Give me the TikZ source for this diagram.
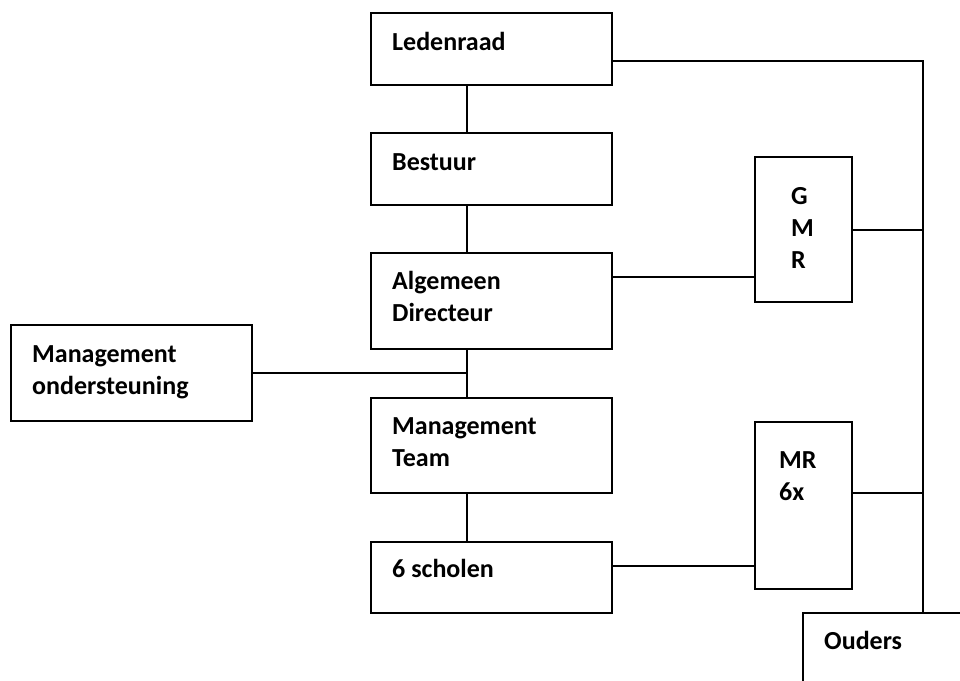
\documentclass[tikz,border=0pt]{standalone}
\usepackage{fontspec}
\setmainfont{Carlito}
\begin{document}
\begin{tikzpicture}[x=1pt,y=-1pt,
    box/.style={draw, line width=2pt, rectangle, inner sep=0pt},
    txt/.style={anchor=base west, align=left, inner sep=0pt,
        font=\fontsize{26}{32}\selectfont\bfseries},
    link/.style={line width=2pt}]
            \useasboundingbox (0,0) rectangle (960,680);
            \clip (0,0) rectangle (960,680);
            \coordinate (spine) at (467,0);
            \coordinate (rail) at (923,61);
            % boxes
            \node[box, minimum width=241, minimum height=72] (ledenraad) at (491.5,49) {};
            \node[box, minimum width=241, minimum height=72] (bestuur) at (491.5,169) {};
            \node[box, minimum width=241, minimum height=96] (algdir) at (491.5,301) {};
            \node[box, minimum width=241, minimum height=95] (mt) at (491.5,445.5) {};
            \node[box, minimum width=241, minimum height=71] (scholen) at (491.5,577.5) {};
            \node[box, minimum width=241, minimum height=96] (mo) at (131.5,373) {};
            \node[box, minimum width=97, minimum height=145] (gmr) at (803.5,229.5) {};
            \node[box, minimum width=97, minimum height=167] (mr) at (803.5,505.5) {};
            \node[box, minimum width=237, minimum height=107] (ouders) at (921.5,666.5) {};
            % texts (base = last line)
            \node[txt] (ledenraad-t) at (392,50) {Ledenraad};
            \node[txt] (bestuur-t) at (392,170) {Bestuur};
            \node[txt] (algdir-t) at (392,321) {Algemeen\\Directeur};
            \node[txt] (mt-t) at (392,466) {Management\\Team};
            \node[txt] (scholen-t) at (392,577) {6 scholen};
            \node[txt] (mo-t) at (32,394) {Management\\ondersteuning};
            \node[txt] (gmr-t) at (791,268) {G\\M\\R};
            \node[txt] (mr-t) at (779,500) {MR\\6x};
            \node[txt] (ouders-t) at (824,649) {Ouders};
            % connectors
            \draw[link] (ledenraad.south -| spine) -- (bestuur.north -| spine);
            \draw[link] (bestuur.south -| spine) -- (algdir.north -| spine);
            \draw[link] (algdir.south -| spine) -- (mt.north -| spine);
            \draw[link] (mt.south -| spine) -- (scholen.north -| spine);
            \draw[link] (mo.east) -- (mo.east -| spine);
            \draw[link] (ledenraad.east |- rail) -| (ouders.north -| rail);
            \draw[link] ([yshift=24pt]algdir.east) -- ([yshift=24pt]algdir.east -| gmr.west);
            \draw[link] ([yshift=11.5pt]scholen.east) -- ([yshift=11.5pt]scholen.east -| mr.west);
            \draw[link] (gmr.east) -- (gmr.east -| rail);
            \draw[link] ([yshift=12.5pt]mr.east) -- ([yshift=12.5pt]mr.east -| rail);
        \end{tikzpicture}
\end{document}
